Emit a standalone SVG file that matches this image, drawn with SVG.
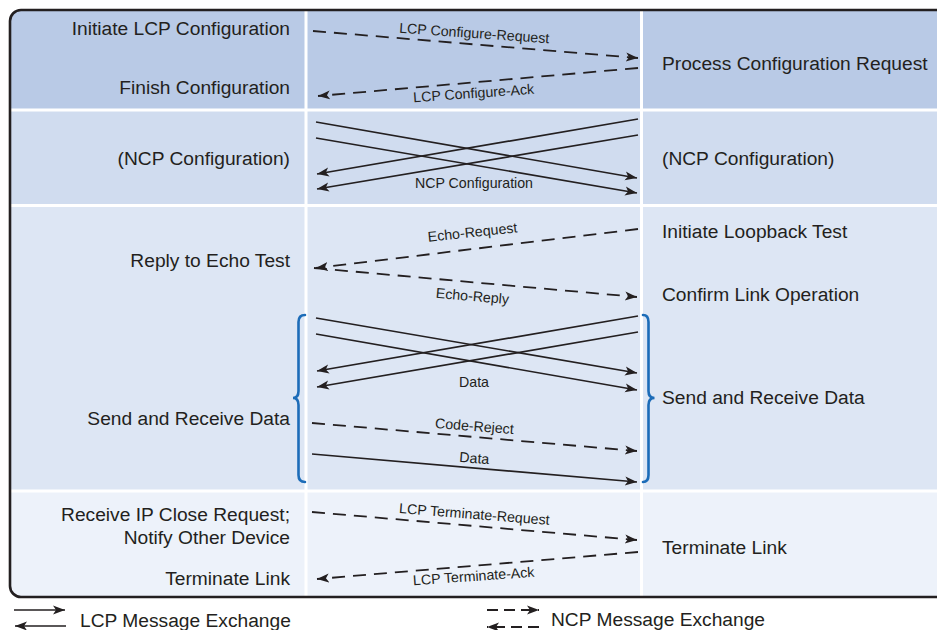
<svg xmlns="http://www.w3.org/2000/svg" width="937" height="630" viewBox="0 0 937 630">
  <defs>
    <style>
      .lbl { font-family: "Liberation Sans", Arial, Helvetica, sans-serif; font-size: 19.2px; fill: #231f20; }
      .r { text-anchor: end; }
      .msg { font-family: "Liberation Sans", Arial, Helvetica, sans-serif; font-size: 14.2px; fill: #231f20; text-anchor: middle; }
      .solid { stroke: #231f20; stroke-width: 1.7; fill: none; marker-end: url(#head); }
      .dash { stroke: #231f20; stroke-width: 1.8; fill: none; stroke-dasharray: 13 8; marker-end: url(#head); }
      .brace { stroke: #1c6cb8; stroke-width: 2.6; fill: none; stroke-linecap: round; }
      .sep { fill: #ffffff; }
    </style>
    <marker id="head" markerUnits="userSpaceOnUse" markerWidth="14" markerHeight="12" refX="12" refY="5" orient="auto">
      <path d="M0,0.5 L12,5 L0,9.5 L3,5 Z" fill="#231f20"/>
    </marker>
    <clipPath id="frameClip">
      <rect x="10" y="10" width="940" height="587" rx="11" ry="11"/>
    </clipPath>
  </defs>

  <!-- background bands of the exchange table -->
  <g id="table" clip-path="url(#frameClip)">
    <rect x="10" y="10" width="930" height="100" fill="#b9cae6"/>
    <rect x="10" y="110" width="930" height="96" fill="#d0dcef"/>
    <rect x="10" y="206" width="930" height="285" fill="#dde6f4"/>
    <rect x="10" y="491" width="930" height="106" fill="#edf2fa"/>
    <!-- white separators -->
    <rect class="sep" x="10" y="108.5" width="930" height="3"/>
    <rect class="sep" x="10" y="204" width="930" height="3"/>
    <rect class="sep" x="10" y="489.5" width="930" height="3"/>
    <rect class="sep" x="304.5" y="10" width="3" height="590"/>
    <rect class="sep" x="640" y="10" width="3" height="590"/>
  </g>
  <rect id="frame" x="10" y="10" width="940" height="587" rx="11" ry="11" fill="none" stroke="#231f20" stroke-width="2.6"/>

  <!-- left column labels -->
  <g id="left-lcp">
    <text class="lbl r" x="290" y="35">Initiate LCP Configuration</text>
    <text class="lbl r" x="290" y="94">Finish Configuration</text>
  </g>
  <g id="left-ncp">
    <text class="lbl r" x="290" y="165">(NCP Configuration)</text>
  </g>
  <g id="left-echo">
    <text class="lbl r" x="290" y="267">Reply to Echo Test</text>
  </g>
  <g id="left-data">
    <text class="lbl r" x="290" y="425">Send and Receive Data</text>
    <path class="brace" d="M305,315 Q298.5,315 298.5,322 L298.5,391 Q298.5,398 293,398 Q298.5,398 298.5,405 L298.5,475 Q298.5,482 305,482"/>
  </g>
  <g id="left-term">
    <text class="lbl r" x="290" y="521">Receive IP Close Request;</text>
    <text class="lbl r" x="290" y="544">Notify Other Device</text>
    <text class="lbl r" x="290" y="585">Terminate Link</text>
  </g>

  <!-- right column labels -->
  <g id="right-lcp">
    <text class="lbl" x="662" y="70">Process Configuration Request</text>
  </g>
  <g id="right-ncp">
    <text class="lbl" x="662" y="165">(NCP Configuration)</text>
  </g>
  <g id="right-echo">
    <text class="lbl" x="662" y="238">Initiate Loopback Test</text>
    <text class="lbl" x="662" y="301">Confirm Link Operation</text>
  </g>
  <g id="right-data">
    <text class="lbl" x="662" y="404">Send and Receive Data</text>
    <path class="brace" d="M643,315 Q648.5,315 648.5,322 L648.5,391 Q648.5,398 654.5,398 Q648.5,398 648.5,405 L648.5,475 Q648.5,482 643,482"/>
  </g>
  <g id="right-term">
    <text class="lbl" x="662" y="554">Terminate Link</text>
  </g>

  <!-- message exchanges -->
  <g id="connectors">
    <!-- LCP configuration -->
    <line class="dash" x1="313" y1="31" x2="638" y2="58"/>
    <line class="dash" x1="638" y1="68" x2="318" y2="96"/>
    <!-- NCP configuration -->
    <line class="solid" x1="316" y1="122" x2="637" y2="178"/>
    <line class="solid" x1="316" y1="138" x2="637" y2="193"/>
    <line class="solid" x1="638" y1="119" x2="317" y2="174"/>
    <line class="solid" x1="638" y1="135" x2="317" y2="189"/>
    <!-- echo test -->
    <line class="dash" x1="638" y1="229" x2="316" y2="268"/>
    <line class="dash" x1="314" y1="268" x2="637" y2="297"/>
    <!-- data -->
    <line class="solid" x1="316" y1="318" x2="637" y2="373"/>
    <line class="solid" x1="316" y1="334" x2="637" y2="390"/>
    <line class="solid" x1="638" y1="316" x2="317" y2="371"/>
    <line class="solid" x1="638" y1="332" x2="317" y2="387"/>
    <line class="dash" x1="312" y1="423" x2="637" y2="451"/>
    <line class="solid" x1="312" y1="454" x2="637" y2="482"/>
    <!-- termination -->
    <line class="dash" x1="312" y1="512" x2="637" y2="540"/>
    <line class="dash" x1="638" y1="552" x2="317" y2="579"/>
  </g>

  <!-- message labels -->
  <g id="message-labels">
    <text class="msg" transform="translate(474,38) rotate(4)">LCP Configure-Request</text>
    <text class="msg" transform="translate(474,98) rotate(-4)">LCP Configure-Ack</text>
    <text class="msg" x="474" y="188">NCP Configuration</text>
    <text class="msg" transform="translate(473,237) rotate(-6)">Echo-Request</text>
    <text class="msg" transform="translate(472,301) rotate(5)">Echo-Reply</text>
    <text class="msg" x="474" y="387">Data</text>
    <text class="msg" transform="translate(474,431) rotate(4.5)">Code-Reject</text>
    <text class="msg" transform="translate(474,463) rotate(4.5)">Data</text>
    <text class="msg" transform="translate(474,519) rotate(4.5)">LCP Terminate-Request</text>
    <text class="msg" transform="translate(474,581) rotate(-4)">LCP Terminate-Ack</text>
  </g>

  <!-- legend -->
  <g id="legend-lcp">
    <line class="solid" x1="14" y1="610" x2="65" y2="610"/>
    <line class="solid" x1="66" y1="626" x2="15" y2="626"/>
    <text class="lbl" x="80" y="627">LCP Message Exchange</text>
  </g>
  <g id="legend-ncp">
    <line class="dash" x1="487" y1="610" x2="539" y2="610" style="stroke-dasharray: 11 6"/>
    <line class="dash" x1="539" y1="627" x2="487" y2="627" style="stroke-dasharray: 11 6"/>
    <text class="lbl" x="551" y="626">NCP Message Exchange</text>
  </g>
</svg>
